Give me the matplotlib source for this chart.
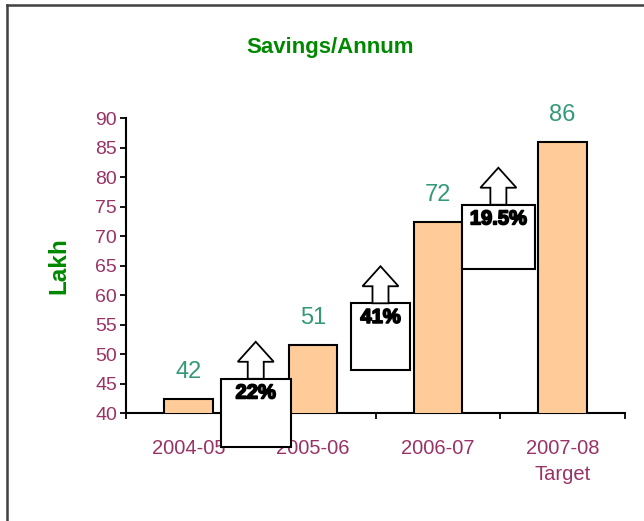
import matplotlib
matplotlib.use("Agg")
import matplotlib.pyplot as plt
from matplotlib.patches import Rectangle, Polygon
from matplotlib.lines import Line2D
import matplotlib.patheffects as pe

# ---- data ----
categories = ["2004-05", "2005-06", "2006-07", "2007-08\nTarget"]
savings = [42.3, 51.5, 72.4, 86.0]
value_labels = ["42", "51", "72", "86"]
growth_labels = ["22%", "41%", "19.5%"]

# ---- layout / style (annotation boxes between bars, in data coords) ----
box_left = [0.26, 1.30, 2.19]
box_right = [0.82, 1.78, 2.78]
box_bottom = [34.2, 47.3, 64.4]
box_top = [45.8, 58.6, 75.3]

plt.rcParams['font.family'] = ['Liberation Sans', 'DejaVu Sans']

W, H, DPI = 644, 521, 100
fig = plt.figure(figsize=(W / DPI, H / DPI), dpi=DPI)
fig.patch.set_facecolor("white")

ax_l, ax_r, ax_t, ax_b = 126, 625, 118, 413
ax = fig.add_axes([ax_l / W, 1 - ax_b / H, (ax_r - ax_l) / W, (ax_b - ax_t) / H])

x = list(range(len(categories)))
ax.bar(x, savings, width=0.39, bottom=0, color="#FFCC99", edgecolor="black",
       linewidth=1.5, zorder=3)
ax.set_xlim(-0.5, 3.5)
ax.set_ylim(40, 90)

# value labels
for xi, v, lab in zip(x, savings, value_labels):
    ax.annotate(lab, (xi, v), xytext=(0, 19.5), textcoords="offset points",
                ha="center", va="center", fontsize=17, color="#339977",
                annotation_clip=False)

# spines
for s in ["top", "right"]:
    ax.spines[s].set_visible(False)
for s in ["left", "bottom"]:
    ax.spines[s].set_linewidth(1.5)
    ax.spines[s].set_color("black")

tick_color = "#993366"
ax.set_yticks(range(40, 91, 5))
ax.tick_params(axis="y", direction="out", length=4.5, width=1.3, pad=2,
               labelsize=14, labelcolor=tick_color)
ax.set_xticks([-0.5, 0.5, 1.5, 2.5, 3.5])
ax.set_xticklabels([])
ax.set_xticks(x, minor=True)
ax.set_xticklabels(categories, minor=True)
ax.tick_params(axis="x", which="major", direction="out", length=4.5, width=1.3)
ax.tick_params(axis="x", which="minor", length=0, pad=19, labelsize=14.5,
               labelcolor=tick_color)
for t in ax.get_xticklabels(minor=True):
    t.set_linespacing(1.45)

ax.set_ylabel("Lakh", fontsize=17.5, fontweight="bold", color="#008800", labelpad=18)

# title
fig.text(330 / W, 1 - 47 / H, "Savings/Annum", ha="center", va="center",
         fontsize=16, fontweight="bold", color="#008800")

# growth boxes with up arrows
bbox = ax.get_position()
px_per_x = bbox.width * W / 4.0
px_per_y = bbox.height * H / 50.0
head_w, shaft_w, head_h, shaft_h = 36, 16, 20, 17
for l, r, b, t, lab in zip(box_left, box_right, box_bottom, box_top, growth_labels):
    rect = Rectangle((l, b), r - l, t - b, facecolor="white", edgecolor="black",
                     linewidth=1.5, zorder=6, clip_on=False)
    ax.add_patch(rect)
    cx = (l + r) / 2
    hw = head_w / 2 / px_per_x
    sw = shaft_w / 2 / px_per_x
    y1 = t + shaft_h / px_per_y
    y2 = y1 + head_h / px_per_y
    poly = Polygon([(cx - sw, t), (cx - sw, y1), (cx - hw, y1), (cx, y2),
                    (cx + hw, y1), (cx + sw, y1), (cx + sw, t)],
                   closed=True, facecolor="white", edgecolor="black",
                   linewidth=1.3, zorder=6, clip_on=False)
    ax.add_patch(poly)
    ax.text(cx, t - 2.4, lab, ha="center", va="center", fontsize=14.5,
            fontweight="bold", color="black", zorder=7, clip_on=False,
            path_effects=[pe.withStroke(linewidth=1.2, foreground="black")])

# outer chart border (left and top)
fig.add_artist(Line2D([7 / W, 7 / W], [0, 1 - 5 / H], transform=fig.transFigure,
                      color="#404040", linewidth=1.8))
fig.add_artist(Line2D([7 / W, 1], [1 - 5 / H, 1 - 5 / H], transform=fig.transFigure,
                      color="#404040", linewidth=1.8))

fig.savefig("out.png", dpi=DPI, facecolor="white")
